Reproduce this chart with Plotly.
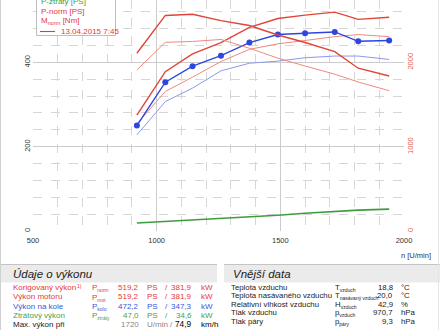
import plotly.graph_objects as go

# ---------------- data ----------------
rpm = [920, 1035, 1145, 1260, 1375, 1490, 1600, 1720, 1815, 1940]
p_kolo = [250, 353, 391, 416, 447, 466, 469, 472.2, 450, 452]          # blue with markers [PS]
p_kolo_ref = [228, 307, 339, 380, 398, 403, 411, 415, 415, 407]          # thin blue (13.04.2015)
p_norm = [275, 378, 420, 447, 483, 504, 512, 519.2, 502, 507]            # thick red [PS]
p_norm_ref = [254, 331, 365, 402, 431, 444, 452, 461, 466, 461]          # thin red [PS]
m_norm = [2108, 2557, 2571, 2495, 2437, 2325, 2236, 2127, 1931, 1839]    # thick red [Nm]
m_norm_ref = [1910, 2238, 2248, 2272, 2168, 2050, 1957, 1860, 1767, 1664]  # thin red [Nm]
p_ztraty = [19, 22.5, 26, 29.5, 33.5, 37.5, 42, 47, 49.5, 52]            # green [PS]

x_ticks = [500, 1000, 1500, 2000]
y_ticks = [0, 200, 400]
y2_ticks = [0, 1000, 2000]

legend_items = ["P-ztráty [PS]", "P-norm [PS]", "M<sub>norm</sub> [Nm]", "13.04.2015 7:45"]

perf_rows = [
    ("Korigovaný výkon", "P", "norm", "519,2", "PS", "/", "381,9", "kW"),
    ("Výkon motoru", "P", "mot", "519,2", "PS", "/", "381,9", "kW"),
    ("Výkon na kole", "P", "kolo", "472,2", "PS", "/", "347,3", "kW"),
    ("Ztrátový výkon", "P", "ztráty", "47,0", "PS", "/", "34,6", "kW"),
]
max_row = ("Max. výkon při", "1720", "U/min /", "74,9", "km/h")

ext_rows = [
    ("Teplota vzduchu", "T", "vzduch", "18,8", "°C"),
    ("Teplota nasávaného vzduchu", "T", "nasávaný vzduch", "20,0", "°C"),
    ("Relativní vlhkost vzduchu", "H", "vzduch", "42,9", "%"),
    ("Tlak vzduchu", "p", "vzduch", "970,7", "hPa"),
    ("Tlak páry", "p", "páry", "9,3", "hPa"),
]

# ---------------- styles ----------------
RED = "#e2443a"
RED_T = "#f08a7c"
BLUE = "#2f45e0"
BLUE_T = "#8d98ec"
GREEN = "#3e9b3e"
T_RED = "#e8383a"
T_BLUE = "#3a58d8"
T_GREEN = "#4ba04b"
FONT = "Liberation Sans, Arial, sans-serif"

W, H = 440, 330
L, R, T, B = 33, 36, 0, 99
PW, PH = W - L - R, H - T - B


def px(x):
    return (x - L) / PW


def py(y):
    return (T + PH - y) / PH


fig = go.Figure()
fig.add_trace(go.Scatter(x=rpm, y=p_ztraty, mode="lines", line=dict(color=GREEN, width=1.6)))
fig.add_trace(go.Scatter(x=rpm, y=p_kolo_ref, mode="lines", line=dict(color=BLUE_T, width=1)))
fig.add_trace(go.Scatter(x=rpm, y=p_norm_ref, mode="lines", line=dict(color=RED_T, width=1)))
fig.add_trace(go.Scatter(x=rpm, y=m_norm_ref, mode="lines", line=dict(color=RED_T, width=1), yaxis="y2"))
fig.add_trace(go.Scatter(x=rpm, y=m_norm, mode="lines", line=dict(color=RED, width=1.4), yaxis="y2"))
fig.add_trace(go.Scatter(x=rpm, y=p_norm, mode="lines", line=dict(color=RED, width=1.4)))
fig.add_trace(go.Scatter(x=rpm, y=p_kolo, mode="lines+markers", line=dict(color=BLUE, width=1.4),
                         marker=dict(color=BLUE, size=6)))

ann = []
shapes = []


def text(x, y, s, color="#222", size=8, anchor="left", italic=False):
    if italic:
        s = "<i>" + s + "</i>"
    ann.append(dict(x=px(x), y=py(y), xref="paper", yref="paper", text=s, showarrow=False,
                    xanchor=anchor, yanchor="middle", font=dict(color=color, size=size, family=FONT)))


# legend box
shapes.append(dict(type="rect", xref="paper", yref="paper", x0=px(36.5), x1=px(115.5), y0=py(35.5), y1=py(-5),
                   line=dict(color="#bdbdbd", width=1), fillcolor="white", layer="above"))
text(39, 1.5, legend_items[0], GREEN, 8)
text(39, 11, legend_items[1], T_RED, 8)
text(39, 20.5, legend_items[2], T_RED, 8)
shapes.append(dict(type="line", xref="paper", yref="paper", x0=px(40), x1=px(55), y0=py(31.5), y1=py(31.5),
                   line=dict(color="#e8383a", width=1.1), layer="above"))
text(59, 31.5, legend_items[3], T_RED, 8)

# axis title
text(433, 255, "n [U/min]", "#333", 7.5, anchor="right")

# header bands
for x0, x1 in [(0, 217), (224, 440)]:
    shapes.append(dict(type="rect", xref="paper", yref="paper", x0=px(x0), x1=px(x1), y0=py(282.5), y1=py(264.5),
                       line=dict(width=0), fillcolor="#ebebeb", layer="above"))
    shapes.append(dict(type="line", xref="paper", yref="paper", x0=px(x0), x1=px(x1), y0=py(264.5), y1=py(264.5),
                       line=dict(color="#c4c4c4", width=1), layer="above"))
text(11, 274, "Údaje o výkonu", "#222", 11.5, italic=True)
text(231, 274, "Vnější data", "#222", 11.5, italic=True)


def sym(main, sub):
    return main + "<sub><span style='font-size:5px'>" + sub + "</span></sub>"


# performance table
row_y = [287.5, 296.8, 306, 315.2, 324.4]
cols = [T_RED, T_RED, T_BLUE, T_GREEN]
for i, (lab, s_main, s_sub, v1, u1, sl, v2, u2) in enumerate(perf_rows):
    yy = row_y[i]
    c = cols[i]
    text(11, yy, lab, c, 8)
    text(90, yy + 0.8, sym(s_main, s_sub), c, 8)
    text(141, yy, v1, c, 8, anchor="right")
    text(145, yy, u1, c, 8)
    text(166, yy, sl, c, 8, anchor="center")
    text(194, yy, v2, c, 8, anchor="right")
    text(199, yy, u2, c, 8)
text(75, 286.2, "1)", T_RED, 5)
yy = row_y[4]
text(11, yy, max_row[0], "#222", 8)
text(141, yy, max_row[1], "#888", 8, anchor="right")
text(145, yy, max_row[2], "#888", 8)
text(194, yy, max_row[3], "#000", 8.3, anchor="right")
text(199, yy, max_row[4], "#000", 8)

# external data table
ext_y = [287.5, 295.5, 304, 312.5, 321.5]
for i, (lab, s_main, s_sub, v, u) in enumerate(ext_rows):
    yy = ext_y[i]
    text(229, yy, lab, "#222", 7.8)
    text(333, yy + 0.8, sym(s_main, s_sub), "#222", 7.8)
    text(395, yy, v, "#222", 7.8, anchor="right")
    text(399, yy, u, "#222", 7.8)

# frame lines of the page
shapes.append(dict(type="line", xref="paper", yref="paper", x0=px(0.5), x1=px(0.5), y0=py(0), y1=py(330),
                   line=dict(color="#d0d0d0", width=1), layer="above"))
shapes.append(dict(type="line", xref="paper", yref="paper", x0=px(438.5), x1=px(438.5), y0=py(0), y1=py(330),
                   line=dict(color="#e4e4e4", width=1), layer="above"))

fig.update_layout(
    width=W, height=H, margin=dict(l=L, r=R, t=T, b=B, pad=0),
    paper_bgcolor="white", plot_bgcolor="white", showlegend=False,
    font=dict(family=FONT, size=7.5, color="#333"),
    xaxis=dict(range=[500, 2000], tickvals=x_ticks, ticktext=[str(v) for v in x_ticks],
               showgrid=True, gridcolor="#cccccc", gridwidth=1, zeroline=False,
               showline=False, ticks="", ticklen=0, ticklabelstandoff=3, tickfont=dict(size=7.5, color="#333"),
               minor=dict(dtick=100, tick0=500, showgrid=True, gridcolor="#d6d6d6", griddash="dash", gridwidth=1)),
    yaxis=dict(range=[0, 548], tickvals=y_ticks, ticktext=[str(v) for v in y_ticks], tickangle=-90,
               showgrid=True, gridcolor="#cccccc", gridwidth=1, zeroline=False, showline=False,
               ticks="", ticklabelstandoff=1, tickfont=dict(size=7.5, color="#333"),
               minor=dict(dtick=40, tick0=0, showgrid=True, gridcolor="#d6d6d6", griddash="dash", gridwidth=1)),
    yaxis2=dict(range=[0, 2740], overlaying="y", side="right", tickvals=y2_ticks,
                ticktext=[str(v) for v in y2_ticks], tickangle=-90, showgrid=False, zeroline=False,
                showline=False, ticks="", tickfont=dict(size=7.5, color="#e05a4a")),
    annotations=ann, shapes=shapes,
)

fig.write_html("out.html")
